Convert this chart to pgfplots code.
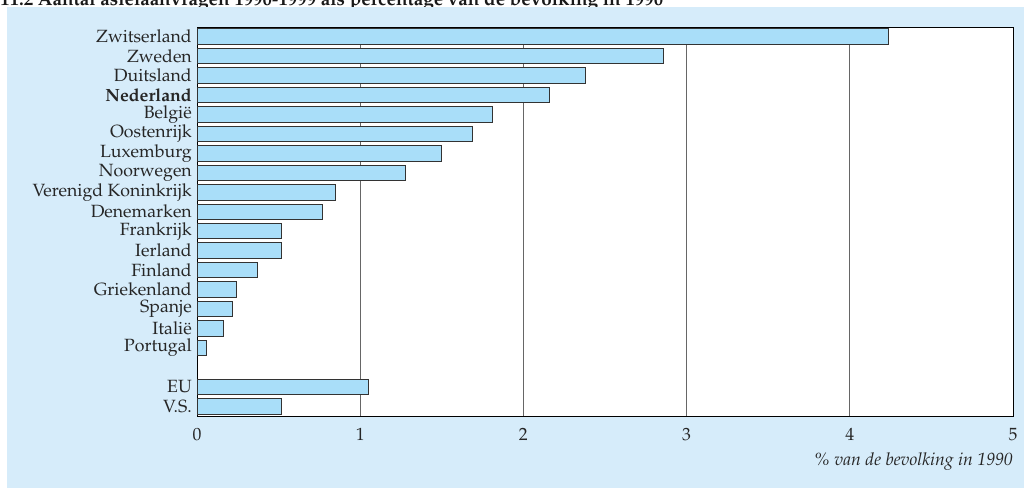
\documentclass[border=0pt]{standalone}
\usepackage[T1]{fontenc}
\usepackage{mathpazo}
\usepackage{pgfplots}
\pgfplotsset{compat=1.18}
\definecolor{panel}{RGB}{214,236,250}
\definecolor{barfill}{RGB}{169,222,249}
\begin{document}
\begin{tikzpicture}[x=1pt,y=1pt]
\useasboundingbox (0,0) rectangle (1024,-488);
\node[anchor=base west, inner sep=0pt, font=\fontsize{18.9}{21}\selectfont\bfseries, text=black!90] at (0,-5.5) {11.2 Aantal asielaanvragen 1990-1999 als percentage van de bevolking in 1990};
\fill[panel] (7,-7) rectangle (1024,-488);
\begin{axis}[
  at={(197pt,-416pt)}, anchor=south west,
  scale only axis, width=816pt, height=389pt,
  xmin=0, xmax=5, ymin=-0.5, ymax=19.5,
  xbar, bar width=15.5pt,
  axis background/.style={fill=white},
  xtick={0,1,2,3,4,5}, ytick={0,...,19},
  yticklabels={V.S.,EU,,Portugal,Itali\"e,Spanje,Griekenland,Finland,Ierland,Frankrijk,Denemarken,Verenigd Koninkrijk,Noorwegen,Luxemburg,Oostenrijk,Belgi\"e,\textbf{Nederland},Duitsland,Zweden,Zwitserland},
  major tick length=0pt,
  xmajorgrids, grid style={black!60, line width=1pt},
  axis line style={black, line width=1pt},
  tick label style={font=\fontsize{17.7}{20}\selectfont, text=black!85},
  yticklabel style={anchor=east, inner sep=0pt, xshift=-5pt},
  xticklabel style={anchor=north, inner sep=0pt, yshift=-12pt},
  xlabel={\itshape\% van de bevolking in 1990},
  xlabel style={at={(rel axis cs:1,0)}, anchor=base east, inner sep=0pt, yshift=-49pt, font=\fontsize{17.7}{20}\selectfont, text=black!85},
]
\addplot[fill=barfill, draw=black!80, line width=1pt] coordinates {
  (0.52,0) (1.05,1) (0.06,3) (0.16,4) (0.22,5) (0.24,6) (0.37,7) (0.52,8) (0.52,9) (0.77,10)
  (0.85,11) (1.28,12) (1.50,13) (1.69,14) (1.81,15) (2.16,16) (2.38,17) (2.86,18) (4.24,19)
};
\end{axis}
\end{tikzpicture}
\end{document}
